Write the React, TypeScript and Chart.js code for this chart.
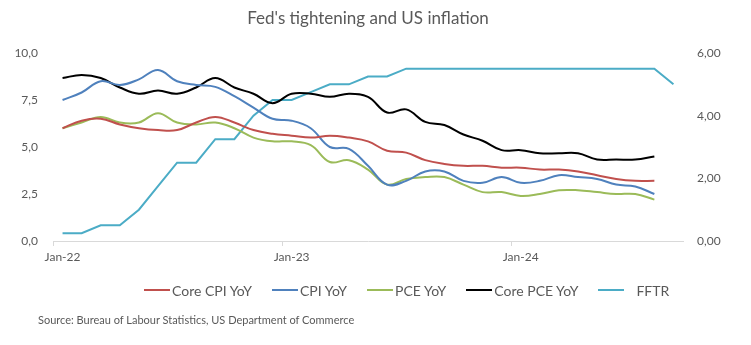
import React, { useEffect, useRef } from 'react';
import { Chart, registerables } from 'chart.js';

Chart.register(...registerables);

const months = [
  'Jan-22', 'Feb-22', 'Mar-22', 'Apr-22', 'May-22', 'Jun-22', 'Jul-22', 'Aug-22', 'Sep-22', 'Oct-22', 'Nov-22', 'Dec-22',
  'Jan-23', 'Feb-23', 'Mar-23', 'Apr-23', 'May-23', 'Jun-23', 'Jul-23', 'Aug-23', 'Sep-23', 'Oct-23', 'Nov-23', 'Dec-23',
  'Jan-24', 'Feb-24', 'Mar-24', 'Apr-24', 'May-24', 'Jun-24', 'Jul-24', 'Aug-24', 'Sep-24',
];

// Left axis (%)
const coreCpi = [6.0, 6.4, 6.5, 6.2, 6.0, 5.9, 5.9, 6.3, 6.6, 6.3, 5.9, 5.7, 5.6, 5.5, 5.6, 5.5, 5.3, 4.8, 4.7, 4.3, 4.1, 4.0, 4.0, 3.9, 3.9, 3.8, 3.8, 3.7, 3.5, 3.3, 3.2, 3.2];
const cpi = [7.5, 7.9, 8.5, 8.3, 8.6, 9.1, 8.5, 8.3, 8.2, 7.7, 7.1, 6.5, 6.4, 6.0, 5.0, 4.9, 4.0, 3.0, 3.2, 3.7, 3.7, 3.2, 3.1, 3.4, 3.1, 3.2, 3.5, 3.4, 3.3, 3.0, 2.9, 2.5];
const pce = [6.0, 6.3, 6.6, 6.3, 6.3, 6.8, 6.3, 6.2, 6.3, 6.0, 5.5, 5.3, 5.3, 5.1, 4.2, 4.3, 3.8, 3.0, 3.3, 3.4, 3.4, 3.0, 2.6, 2.6, 2.4, 2.5, 2.7, 2.7, 2.6, 2.5, 2.5, 2.2];
// Right axis (%)
const corePce = [5.2, 5.3, 5.2, 4.9, 4.7, 4.8, 4.7, 4.9, 5.2, 4.9, 4.7, 4.4, 4.7, 4.7, 4.6, 4.7, 4.6, 4.1, 4.2, 3.8, 3.7, 3.4, 3.2, 2.9, 2.9, 2.8, 2.8, 2.8, 2.6, 2.6, 2.6, 2.7];
const fftr = [0.25, 0.25, 0.5, 0.5, 1.0, 1.75, 2.5, 2.5, 3.25, 3.25, 4.0, 4.5, 4.5, 4.75, 5.0, 5.0, 5.25, 5.25, 5.5, 5.5, 5.5, 5.5, 5.5, 5.5, 5.5, 5.5, 5.5, 5.5, 5.5, 5.5, 5.5, 5.5, 5.0];

const leftTicks = [0, 2.5, 5, 7.5, 10];
const rightTicks = [0, 2, 4, 6];

const seriesNames = ['Core CPI YoY', 'CPI YoY', 'PCE YoY', 'Core PCE YoY', 'FFTR'];
const seriesColors = ['#C0504D', '#4F81BD', '#9BBB59', '#000000', '#4BACC6'];

const TITLE = "Fed's tightening and US inflation";
const SOURCE = 'Source: Bureau of Labour Statistics, US Department of Commerce';

const FONT = 'Lato, "Open Sans", sans-serif';
const TEXT_COLOR = '#595959';

const fmt = (v: number, d: number) => v.toFixed(d).replace('.', ',');

export default function App() {
  const canvasRef = useRef<HTMLCanvasElement | null>(null);

  useEffect(() => {
    if (!canvasRef.current) return;
    const seriesData = [coreCpi, cpi, pce, corePce, fftr];
    const axisIds = ['y', 'y', 'y', 'y1', 'y1'];
    const chart = new Chart(canvasRef.current, {
      type: 'line',
      data: {
        labels: months,
        datasets: seriesNames.map((name, i) => ({
          label: name,
          data: seriesData[i],
          borderColor: seriesColors[i],
          backgroundColor: seriesColors[i],
          borderWidth: 2,
          pointRadius: 0,
          tension: i === 4 ? 0 : 0.4,
          yAxisID: axisIds[i],
          fill: false,
        })),
      },
      options: {
        responsive: false,
        animation: false,
        layout: { padding: { left: 0, right: 0, top: 0, bottom: 80 } },
        plugins: {
          legend: { display: false },
          tooltip: { enabled: false },
          title: {
            display: true,
            fullSize: false,
            text: TITLE,
            color: TEXT_COLOR,
            font: { family: FONT, size: 17, weight: 'normal' },
            padding: { top: 8, bottom: 24.6 },
          },
        },
        scales: {
          x: {
            type: 'category',
            offset: true,
            grid: {
              offset: true,
              drawOnChartArea: false,
              drawTicks: true,
              tickLength: 5,
              color: (ctx: any) => (ctx.index % 12 === 0 ? '#D9D9D9' : 'rgba(0,0,0,0)'),
            },
            border: { display: true, color: '#D9D9D9', width: 1 },
            ticks: {
              autoSkip: false,
              maxRotation: 0,
              minRotation: 0,
              padding: 4,
              color: TEXT_COLOR,
              font: { family: FONT, size: 12 },
              callback: (_v: any, i: number) => (i % 12 === 0 ? months[i] : ''),
            },
            afterFit: (s: any) => { s.height = 24; },
          },
          y: {
            position: 'left',
            min: 0,
            max: 10,
            afterBuildTicks: (s: any) => { s.ticks = leftTicks.map((value) => ({ value })); },
            grid: { display: false, drawTicks: false },
            border: { display: false },
            ticks: {
              padding: 15,
              color: TEXT_COLOR,
              font: { family: FONT, size: 12 },
              callback: (v: any) => fmt(Number(v), 1),
            },
            afterFit: (s: any) => { s.width = 53; },
          },
          y1: {
            position: 'right',
            min: 0,
            max: 6,
            afterBuildTicks: (s: any) => { s.ticks = rightTicks.map((value) => ({ value })); },
            grid: { display: false, drawTicks: false },
            border: { display: false },
            ticks: {
              padding: 14,
              color: TEXT_COLOR,
              font: { family: FONT, size: 12 },
              callback: (v: any) => fmt(Number(v), 2),
            },
            afterFit: (s: any) => { s.width = 68; },
          },
        },
      } as any,
    });
    return () => chart.destroy();
  }, []);

  return (
    <div style={{ position: 'absolute', left: 0, top: 0, width: 751, height: 345, background: '#fff', fontFamily: FONT }}>
      <canvas ref={canvasRef} width={751} height={345} style={{ display: 'block' }} />
      <div
        style={{
          position: 'absolute', left: 144, top: 281, height: 18, display: 'flex', alignItems: 'center',
          fontSize: 14, color: TEXT_COLOR, whiteSpace: 'nowrap',
        }}
      >
        {seriesNames.map((name, i) => (
          <div key={name} style={{ display: 'flex', alignItems: 'center', marginRight: 20 }}>
            <span style={{ display: 'inline-block', width: 26, height: 2, background: seriesColors[i] }} />
            <span style={{ marginLeft: i === 4 ? 12 : 2 }}>{name}</span>
          </div>
        ))}
      </div>
      <div
        style={{
          position: 'absolute', left: 38, top: 313, fontSize: 11, color: TEXT_COLOR, whiteSpace: 'nowrap', lineHeight: '14px',
        }}
      >
        {SOURCE}
      </div>
    </div>
  );
}
